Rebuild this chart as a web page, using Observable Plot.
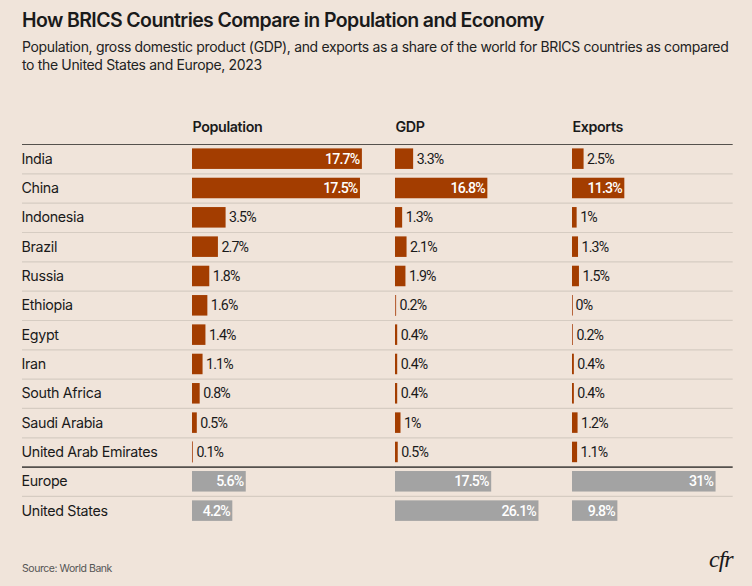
<!DOCTYPE html>
<html>
<head>
<meta charset="utf-8">
<script src="https://cdn.jsdelivr.net/npm/d3@7"></script>
<script src="https://cdn.jsdelivr.net/npm/@observablehq/plot@0.6"></script>
<style>
  html, body { margin: 0; padding: 0; background: #f0e4da; }
  body { width: 752px; height: 586px; position: relative; overflow: hidden; font-family: Inter, sans-serif; color: #1a1a1a; }
  #title { position: absolute; left: 22px; top: 7.5px; font-size: 19.5px; font-weight: 600; letter-spacing: -0.6px; line-height: 24px; white-space: nowrap; }
  #subtitle { position: absolute; left: 22px; top: 38px; width: 712px; font-size: 14px; letter-spacing: -0.34px; line-height: 18px; color: #222; }
  #source { position: absolute; left: 22px; top: 562px; font-size: 10.5px; letter-spacing: -0.45px; color: #555; }
  #logo { position: absolute; left: 709px; top: 546px; font-family: "Liberation Serif", serif; font-style: italic; font-size: 24px; color: #1a1a1a; letter-spacing: -1px; }
  .panel { position: absolute; top: 110px; }
  .panel svg { display: block; background: transparent; }
  .panel text[aria-label^="share"] { letter-spacing: -0.85px; }
  .panel text[aria-label^="column"] { letter-spacing: -0.38px; }
  .panel g[aria-label="y-axis tick label"] text { letter-spacing: -0.33px; }
</style>
</head>
<body>
<div id="title">How BRICS Countries Compare in Population and Economy</div>
<div id="subtitle">Population, gross domestic product (GDP), and exports as a share of the world for BRICS countries as compared to the United States and Europe, 2023</div>
<div id="charts"></div>
<div id="source">Source: World Bank</div>
<div id="logo">cfr</div>
<script>
const countries = ["India","China","Indonesia","Brazil","Russia","Ethiopia","Egypt","Iran","South Africa","Saudi Arabia","United Arab Emirates","Europe","United States"];
const population = [17.7,17.5,3.5,2.7,1.8,1.6,1.4,1.1,0.8,0.5,0.1,5.6,4.2];
const gdp = [3.3,16.8,1.3,2.1,1.9,0.2,0.4,0.4,0.4,1,0.5,17.5,26.1];
const exportsShare = [2.5,11.3,1,1.3,1.5,0,0.2,0.4,0.4,1.2,1.1,31,9.8];
const comparison = ["Europe","United States"];

const step = 29.33, marginTop = 34, height = marginTop + step * countries.length + 6;
const ink = "#1a1a1a", orange = "#a33d00", grey = "#a3a3a3", light = "#d6ccc2", dark = "#55514d";
const font = "Inter, sans-serif", valueFont = "Roboto, sans-serif";

function panel(name, values, o) {
  const rows = countries.map((country, i) => ({country, value: values[i], group: comparison.includes(country) ? "c" : "b"}));
  const inside = rows.filter(d => d.value >= 4);
  const outside = rows.filter(d => d.value < 4);
  const label = d => d.value + "%";
  const aria = d => "share " + d.country + " " + label(d);
  const lineOffset = step / 2;
  const marks = [
    Plot.ruleY(countries.filter(c => c !== "United Arab Emirates" && c !== "United States"), {y: d => d, dy: lineOffset, stroke: light, strokeWidth: 1.2, insetLeft: o.insetLeft || 0}),
    Plot.ruleY([countries[0]], {y: d => d, dy: -lineOffset, stroke: dark, strokeWidth: 1.2, insetLeft: o.insetLeft || 0}),
    Plot.ruleY(["United Arab Emirates"], {y: d => d, dy: lineOffset, stroke: dark, strokeWidth: 1.6, insetLeft: o.insetLeft || 0}),
    Plot.barX(rows, {x: "value", y: "country", fill: d => d.group === "c" ? grey : orange}),
    Plot.tickX(rows.filter(d => d.group === "b" && d.value < 0.3), {x: 0, y: "country", stroke: "#b8643a", strokeWidth: 1}),
    Plot.text(inside, {x: "value", y: "country", text: label, textAnchor: "end", dx: -3, fill: "#fff", fontSize: 14.2, fontWeight: 500, fontFamily: valueFont, ariaLabel: aria}),
    Plot.text(outside, {x: "value", y: "country", text: label, textAnchor: "start", dx: 3, fill: ink, fontSize: 14.2, fontFamily: valueFont, ariaLabel: aria}),
    Plot.text([name], {frameAnchor: "top-left", lineAnchor: "middle", dy: -17, fill: ink, fontSize: 14.3, fontWeight: 600, ariaLabel: d => "column " + d})
  ];
  if (o.labels) marks.push(Plot.axisY({tickSize: 0, textAnchor: "start", dx: o.insetLeft + 8, label: null, fontSize: 14.3, fill: ink}));
  const el = Plot.plot({
    width: o.width, height, marginTop, marginBottom: 6, marginLeft: o.marginLeft, marginRight: o.marginRight,
    style: {fontFamily: font, background: "transparent", overflow: "visible"},
    x: {domain: [0, o.max], axis: null},
    y: {domain: countries, paddingInner: 0.3, paddingOuter: 0.15, round: false, axis: null},
    marks
  });
  const wrap = document.createElement("div");
  wrap.className = "panel";
  wrap.style.left = o.left + "px";
  wrap.appendChild(el);
  document.getElementById("charts").appendChild(wrap);
}

panel("Population", population, {left: 0, width: 395.3, marginLeft: 192, marginRight: 0, max: 21.18, insetLeft: -170, labels: true});
panel("GDP", gdp, {left: 395.3, width: 177, marginLeft: 0, marginRight: 0, max: 32.2});
panel("Exports", exportsShare, {left: 572.3, width: 179.7, marginLeft: 0, marginRight: 19, max: 34.7});
</script>
</body>
</html>
